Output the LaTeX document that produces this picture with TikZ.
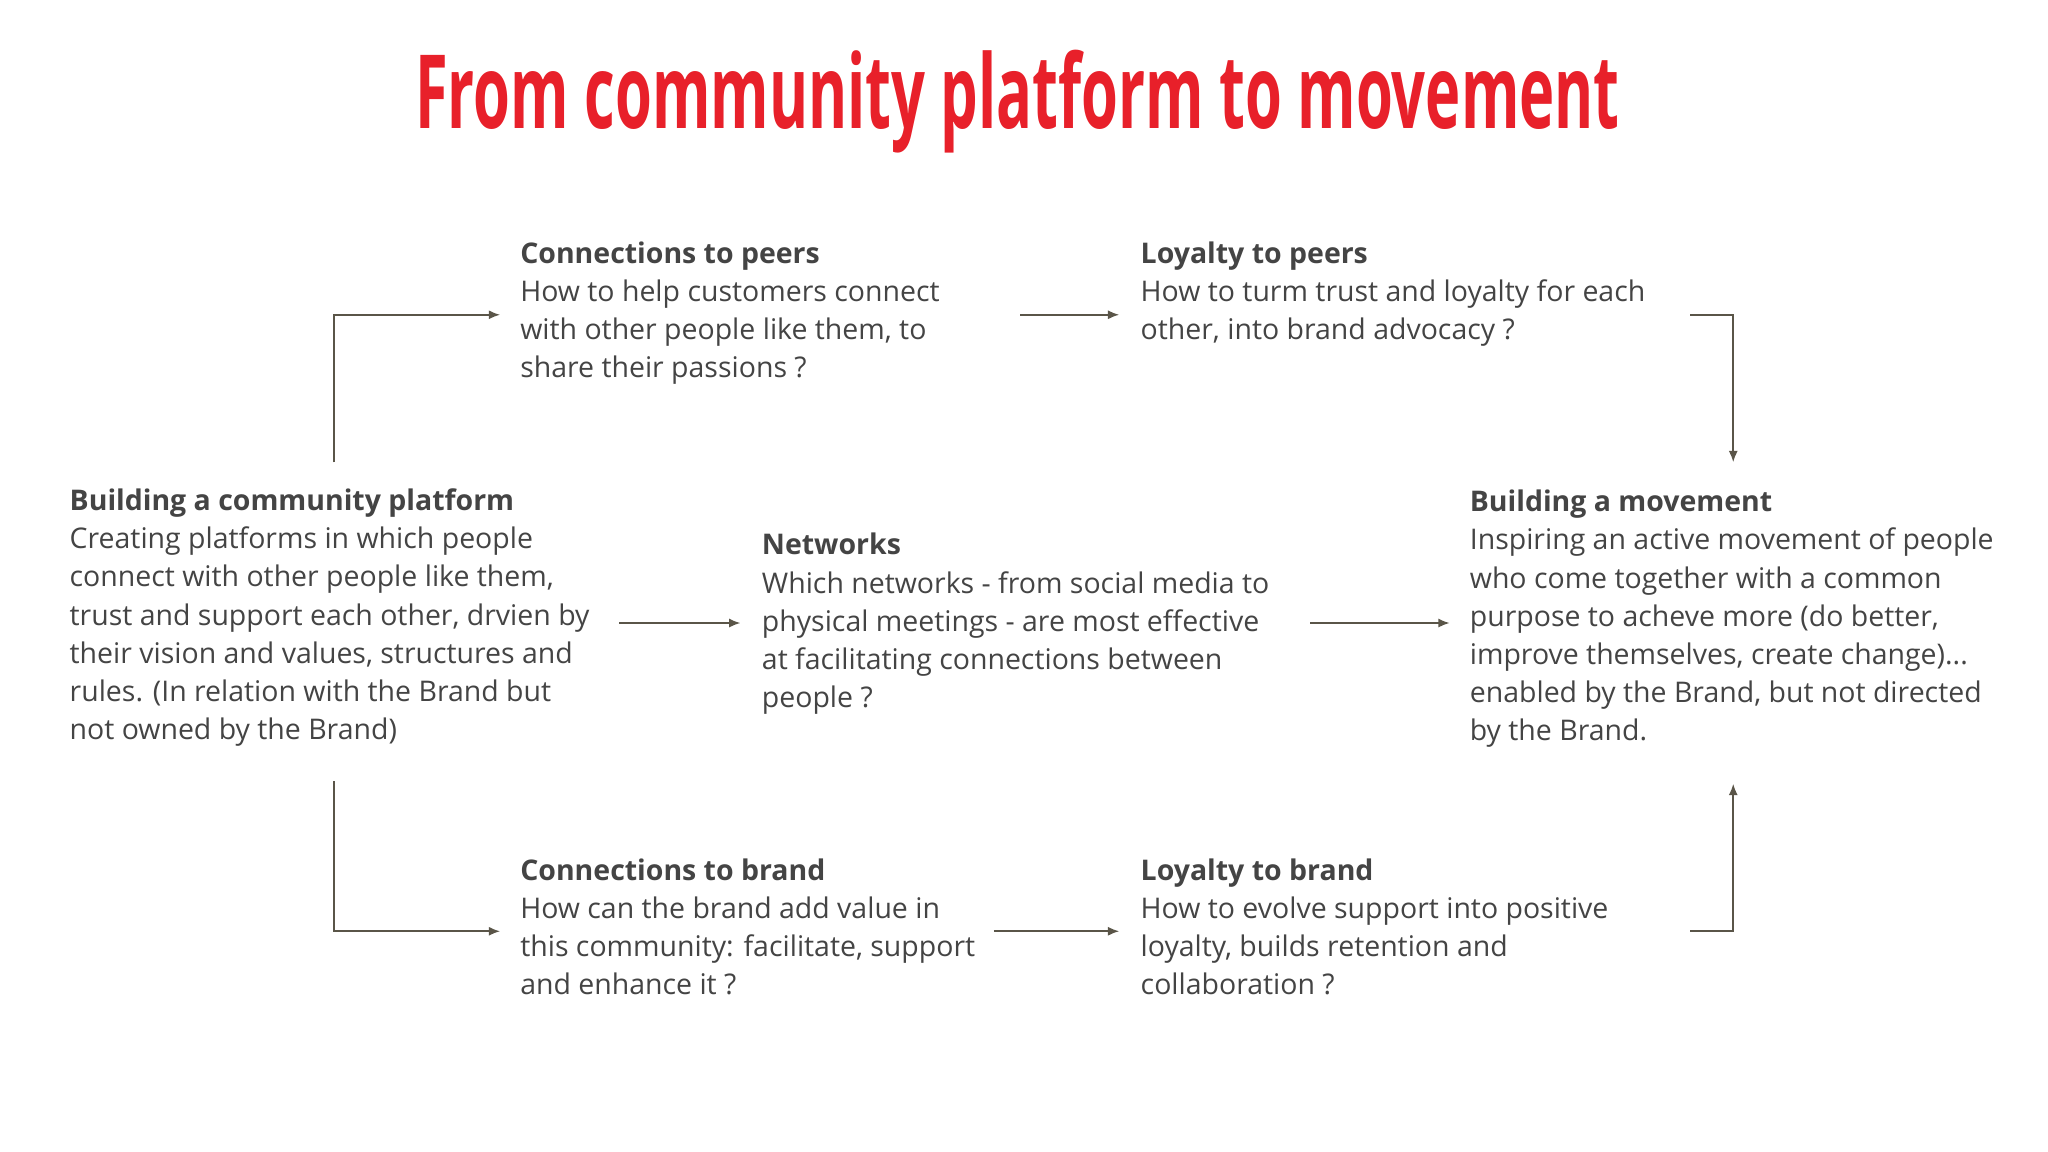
\documentclass[tikz,border=0pt]{standalone}
\usepackage{fontspec}
\setmainfont{Open Sans}
\usetikzlibrary{arrows.meta}
\definecolor{txt}{HTML}{444444}
\definecolor{arr}{HTML}{5A5548}
\definecolor{ttl}{HTML}{E8202A}
\begin{document}
\begin{tikzpicture}[x=0.02cm,y=-0.02cm,
  blk/.style={anchor=north west,inner sep=0pt,align=left,text=txt,font=\fontsize{12.4}{16.6}\selectfont},
  conn/.style={draw=arr,line width=0.9pt,-{Latex[length=5pt,width=4pt]}}]
\useasboundingbox[fill=white] (0,0) rectangle (1568,882);
\node[inner sep=0pt,text=ttl] (title) at (779,78) {\resizebox{18.45cm}{1.2cm}{\bfseries From community platform to movement}};
\node[blk] (peers) at (398,185) {\textbf{Connections to peers}\\How to help customers connect\\with other people like them, to\\share their passions ?};
\node[blk] (lpeers) at (873,185) {\textbf{Loyalty to peers}\\How to turm trust and loyalty for each\\other, into brand advocacy ?};
\node[blk] (plat) at (53,374) {\textbf{Building a community platform}\\Creating platforms in which people\\connect with other people like them,\\trust and support each other, drvien by\\their vision and values, structures and\\rules. (In relation with the Brand but\\not owned by the Brand)};
\node[blk] (net) at (583,408) {\textbf{Networks}\\Which networks - from social media to\\physical meetings - are most effective\\at facilitating connections between\\people ?};
\node[blk] (move) at (1125,375) {\textbf{Building a movement}\\Inspiring an active movement of people\\who come together with a common\\purpose to acheve more (do better,\\improve themselves, create change)...\\enabled by the Brand, but not directed\\by the Brand.};
\node[blk] (brand) at (398,657) {\textbf{Connections to brand}\\How can the brand add value in\\this community: facilitate, support\\and enhance it ?};
\node[blk] (lbrand) at (873,657) {\textbf{Loyalty to brand}\\How to evolve support into positive\\loyalty, builds retention and\\collaboration ?};
\coordinate (a1) at (256,354); \coordinate (a2) at (383,241);
\coordinate (b1) at (781,241); \coordinate (b2) at (857,241);
\coordinate (c1) at (1294,241); \coordinate (c2) at (1327,354);
\coordinate (d1) at (474,477); \coordinate (d2) at (567,477);
\coordinate (e1) at (1003,477); \coordinate (e2) at (1110,477);
\coordinate (f1) at (256,598); \coordinate (f2) at (383,713);
\coordinate (g1) at (761,713); \coordinate (g2) at (857,713);
\coordinate (h1) at (1294,713); \coordinate (h2) at (1327,600);
\draw[conn] (a1) |- (a2);
\draw[conn] (b1) -- (b2);
\draw[conn] (c1) -| (c2);
\draw[conn] (d1) -- (d2);
\draw[conn] (e1) -- (e2);
\draw[conn] (f1) |- (f2);
\draw[conn] (g1) -- (g2);
\draw[conn] (h1) -| (h2);
\end{tikzpicture}
\end{document}
